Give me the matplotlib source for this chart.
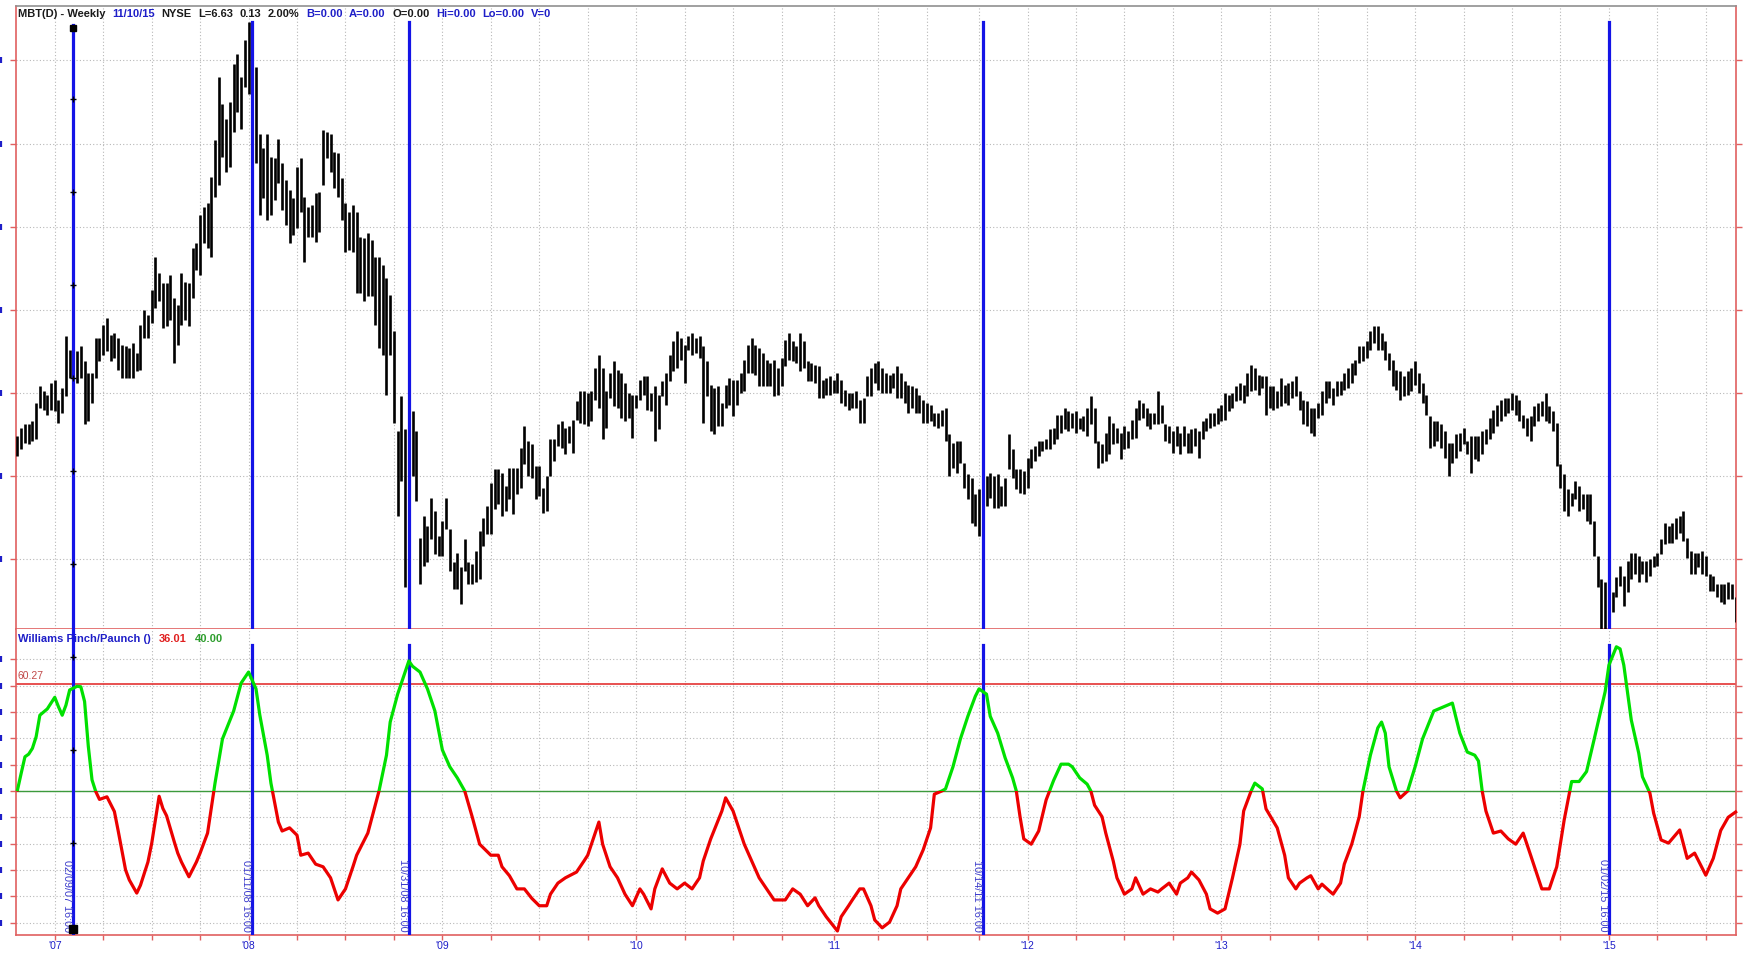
import matplotlib
matplotlib.use("Agg")
import matplotlib.pyplot as plt
import numpy as np
import pandas as pd
from matplotlib.patches import Rectangle

# ---------------- weekly price bars (MBT, NYSE) ----------------
first_bar = "2006-10-27"
bar_high = [
    17.4, 17.9, 18.1, 18.1, 18.3, 19.4, 20.4, 20.1, 19.9, 20.6,
    20.8, 19.6, 20.3, 23.4, 22.6, 22.6, 22.5, 22.8, 21.9, 21.2,
    21.2, 23.3, 23.3, 24.1, 24.5, 23.5, 23.6, 23.3, 22.9, 22.8,
    22.7, 23.0, 22.4, 24.1, 25.0, 24.7, 26.2, 28.2, 27.2, 26.6,
    26.6, 27.1, 25.7, 25.3, 27.2, 26.7, 26.6, 28.7, 29.0, 30.7,
    31.2, 31.4, 33.0, 35.2, 39.0, 37.4, 36.5, 37.5, 39.8, 40.4,
    39.0, 41.2, 42.3, 40.0, 39.6, 35.6, 34.7, 35.6, 34.2, 34.1,
    35.3, 33.8, 32.8, 32.2, 31.7, 33.6, 34.1, 31.8, 31.2, 31.3,
    32.0, 32.1, 35.8, 35.7, 35.6, 34.5, 34.4, 32.9, 31.4, 30.9,
    31.3, 30.9, 29.4, 29.3,
    29.6, 29.2, 28.2, 28.2, 27.7, 26.9, 25.9, 23.7, 17.7, 19.8,
    17.8, 18.8, 18.9, 17.7, 11.3, 12.6, 12.0, 13.7, 12.9, 11.4,
    12.3, 13.7, 11.8, 9.8, 10.4, 9.5, 11.2, 9.8, 9.7, 10.5,
    11.7, 12.5, 13.2, 14.6, 15.4, 15.4, 15.2, 14.4, 15.5, 15.5,
    15.5, 16.7, 18.0, 17.1, 16.9, 15.6, 15.6, 14.3, 15.0, 17.2,
    17.2, 18.1, 18.3, 17.9, 18.0, 18.4, 19.5, 20.1, 20.1, 20.0,
    20.1, 21.5, 22.3, 21.5, 20.1, 21.2, 21.9, 21.4, 21.2, 20.6,
    20.0, 19.9, 19.9, 20.8, 21.0, 21.0, 20.0, 20.4, 19.9, 20.7,
    21.2, 22.3, 23.1, 23.7, 23.3, 22.9, 23.4, 23.6, 23.3, 23.4,
    22.8, 21.9, 20.5,
    20.3, 20.4, 19.4, 20.5, 20.9, 20.8, 20.8, 21.2, 22.0, 22.9,
    23.3, 22.9, 22.7, 22.4, 22.0, 21.8, 22.0, 21.5, 22.1, 23.2,
    23.6, 23.1, 22.8, 23.6, 23.1, 21.9, 21.8, 21.7, 21.6, 20.8,
    20.9, 21.0, 20.8, 21.2, 20.8, 20.2, 20.0, 20.0, 20.1, 19.6,
    19.7, 21.0, 21.5, 21.8, 21.9, 21.5, 21.2, 21.1, 21.2, 21.6,
    21.2, 20.7, 20.5, 20.4, 20.3, 19.9, 19.6, 19.4, 19.3, 18.8,
    18.8, 19.0, 19.1, 17.5, 17.0, 17.1, 17.1, 15.8, 15.1, 14.9,
    13.9, 14.2, 14.8, 15.0, 15.2, 15.0, 15.1, 14.4, 14.9, 17.5,
    16.6, 15.4, 15.4, 15.3, 16.1, 16.6, 16.8, 17.1, 17.1, 17.2,
    17.8, 17.9, 18.7,
    18.7, 19.1, 18.9, 18.8, 18.9, 18.5, 18.6, 19.1, 19.8, 19.1,
    17.1, 16.9, 17.6, 18.6, 18.2, 17.9, 17.6, 18.0, 17.7, 18.4,
    19.1, 19.6, 19.4, 19.1, 18.8, 18.8, 20.1, 19.3, 18.1, 18.0,
    17.7, 18.0, 17.6, 18.0, 17.6, 17.8, 17.9, 17.7, 18.3, 18.5,
    18.8, 18.8, 19.1, 19.3, 20.0, 19.9, 20.0, 20.4, 20.6, 20.5,
    21.2, 21.7, 21.5, 21.1, 21.0, 21.0, 20.4, 20.4, 20.1, 20.9,
    20.5, 20.6, 20.7, 21.0, 20.1, 19.6, 19.5, 19.1, 19.1, 19.4,
    20.1, 20.7, 20.7, 20.3, 20.7, 20.7, 21.2, 21.5, 21.8, 22.0,
    22.8, 22.8, 23.1, 23.7, 24.0, 24.0, 23.6, 23.1, 22.4, 22.0,
    21.4, 21.3,
    21.0, 21.3, 21.5, 21.9, 21.2, 20.6, 19.9, 18.6, 18.3, 18.3,
    18.1, 17.7, 17.0, 17.0, 17.5, 17.6, 17.9, 17.1, 17.4, 17.4,
    17.4, 17.7, 17.8, 18.5, 19.0, 19.3, 19.6, 19.7, 19.7, 20.0,
    19.9, 19.6, 18.7, 18.5, 18.6, 19.2, 19.4, 19.5, 20.0, 19.2,
    18.9, 18.2, 15.7, 15.1, 14.2, 14.0, 14.7, 14.4, 13.9, 13.9,
    13.9, 12.3, 10.2, 8.8, 8.6, 8.3, 8.0, 8.9, 9.6, 9.0,
    9.9, 10.4, 10.4, 10.2, 9.9, 9.9, 10.0, 10.2, 10.4, 11.2,
    12.2, 12.0, 12.2, 12.5, 12.6, 12.9, 11.3, 10.5, 10.4, 10.4,
    10.5, 10.2, 9.1, 9.0, 8.5, 8.5, 8.5, 8.6, 8.5, 7.7,
]
bar_low = [
    16.2, 16.6, 17.0, 16.9, 17.1, 17.2, 19.1, 19.0, 18.7, 19.0,
    18.9, 18.2, 18.8, 19.8, 20.9, 20.8, 20.6, 20.9, 18.1, 18.3,
    19.4, 20.9, 21.9, 22.3, 22.5, 21.9, 22.1, 21.4, 20.9, 20.9,
    20.9, 20.9, 21.3, 21.4, 23.3, 23.3, 24.2, 25.1, 25.5, 23.9,
    24.0, 24.4, 21.8, 22.9, 24.1, 24.4, 24.0, 25.7, 27.4, 27.1,
    29.0, 28.7, 28.2, 31.8, 32.5, 34.2, 33.3, 33.6, 35.7, 36.9,
    35.9, 38.4, 38.0, 33.7, 33.8, 30.7, 31.7, 30.4, 30.7, 31.6,
    32.6, 31.0, 30.1, 29.0, 29.5, 29.9, 30.9, 27.9, 29.4, 29.4,
    29.1, 29.7, 32.5, 34.1, 33.3, 32.3, 31.8, 30.4, 28.5, 28.6,
    28.5, 26.0, 26.0, 25.5,
    25.8, 25.8, 24.1, 22.7, 22.3, 19.9, 22.3, 18.2, 12.6, 14.7,
    8.3, 8.0, 15.0, 13.5, 8.5, 9.6, 9.8, 11.2, 10.3, 10.2,
    10.2, 11.8, 9.3, 8.2, 8.2, 7.3, 9.3, 8.5, 8.5, 8.6,
    8.8, 10.8, 11.5, 11.5, 13.0, 13.3, 12.6, 12.9, 13.6, 12.7,
    13.9, 14.3, 15.7, 15.0, 14.9, 13.6, 13.8, 12.8, 12.9, 15.0,
    15.9, 16.8, 16.7, 16.3, 17.0, 16.4, 18.4, 18.2, 18.1, 18.0,
    18.3, 19.6, 19.1, 17.2, 17.9, 19.7, 19.2, 19.1, 18.5, 18.3,
    18.5, 17.3, 19.1, 19.6, 19.9, 19.0, 18.9, 17.1, 17.8, 19.8,
    19.3, 20.7, 21.3, 21.5, 22.0, 20.6, 22.6, 22.3, 22.4, 22.1,
    18.2, 19.8, 17.7,
    17.5, 18.0, 18.0, 19.1, 19.3, 18.6, 19.3, 20.0, 20.1, 21.2,
    21.2, 21.1, 20.4, 20.4, 20.4, 20.4, 19.8, 19.9, 20.4, 21.6,
    22.0, 21.9, 21.8, 21.3, 21.5, 20.7, 20.7, 20.6, 19.7, 19.7,
    19.9, 19.9, 20.0, 20.0, 19.4, 19.2, 19.0, 19.1, 19.1, 18.2,
    18.2, 19.8, 19.8, 20.6, 20.2, 20.0, 20.0, 20.0, 20.3, 19.7,
    19.7, 19.4, 18.8, 19.1, 18.8, 18.8, 18.2, 18.2, 18.3, 18.0,
    17.9, 18.0, 17.1, 15.0, 15.5, 15.2, 15.8, 14.3, 13.6, 12.2,
    12.0, 11.4, 13.2, 13.2, 13.7, 13.1, 13.1, 13.2, 13.2, 15.4,
    14.9, 14.2, 14.0, 13.9, 14.3, 15.5, 15.9, 16.2, 16.5, 16.6,
    16.6, 16.9, 17.2,
    17.6, 17.8, 17.7, 17.9, 17.6, 17.8, 17.7, 17.4, 18.1, 17.0,
    15.5, 15.8, 15.9, 16.3, 16.9, 17.0, 16.0, 16.6, 16.7, 17.2,
    17.3, 18.4, 18.5, 18.0, 17.8, 18.1, 18.1, 18.2, 17.1, 17.0,
    16.4, 16.8, 16.3, 16.8, 16.4, 16.4, 16.8, 16.1, 17.2, 17.7,
    17.9, 18.0, 18.1, 18.3, 18.4, 18.9, 19.1, 19.5, 19.6, 19.4,
    19.8, 20.1, 20.2, 19.9, 20.3, 18.7, 19.1, 19.0, 19.1, 19.2,
    19.4, 19.3, 19.7, 19.8, 19.0, 18.1, 18.0, 17.6, 17.4, 18.5,
    18.7, 19.4, 19.7, 19.3, 19.8, 19.9, 20.2, 20.3, 20.6, 21.1,
    21.8, 21.9, 22.1, 22.6, 23.0, 22.6, 22.6, 22.0, 21.4, 20.4,
    20.2, 19.6,
    19.8, 19.9, 20.1, 20.5, 20.0, 19.4, 18.7, 16.7, 16.8, 17.1,
    16.7, 16.1, 15.0, 15.8, 16.1, 16.5, 16.9, 16.3, 15.2, 16.0,
    15.9, 16.3, 16.9, 17.2, 17.6, 18.0, 18.3, 18.6, 18.8, 19.0,
    18.7, 18.3, 17.9, 17.4, 17.1, 18.0, 18.3, 18.6, 18.3, 18.2,
    17.7, 15.6, 14.3, 12.9, 12.6, 13.2, 13.6, 12.9, 13.0, 12.3,
    12.1, 10.2, 8.3, 5.7, 5.8, 6.9, 6.8, 7.7, 8.4, 7.2,
    8.0, 8.8, 9.1, 8.6, 9.1, 8.6, 9.0, 9.5, 9.6, 10.3,
    10.9, 11.0, 11.0, 11.2, 11.6, 11.1, 10.1, 9.1, 9.1, 9.5,
    9.1, 9.0, 8.1, 8.1, 7.7, 7.4, 7.3, 7.6, 7.6, 6.2,
]
last_close = 6.63
net_change = 0.13
pct_change = 2.00

# ---------------- Williams Pinch/Paunch oscillator ----------------
# (bar number, oscillator value)
pp_bar = [
    0, 1, 2, 3, 4, 5, 6, 8, 10, 11, 12, 13, 14, 16, 17, 18, 19, 20, 21, 22,
    24, 26, 27, 29, 30, 32, 33, 35, 36, 38, 39, 40, 42, 43, 44, 46, 48, 49, 51, 53,
    55, 58, 60, 62, 64, 65, 67, 68, 70, 71, 73, 75, 76, 78, 80, 82, 84, 86, 88, 90,
    91, 94, 96, 97, 99, 100, 102, 104, 105, 106, 108, 110, 112, 114, 116, 118, 120, 122, 124, 127,
    129, 130, 132, 134, 136, 138, 140, 142, 143, 145, 147, 150, 152, 153, 156, 157, 159, 161, 163, 165,
    167, 168, 170, 171, 173, 175, 177, 179, 181, 183, 184, 186, 189, 190, 192, 193, 195, 197, 199, 201,
    203, 206, 208, 210, 212, 214, 215, 217, 220, 221, 223, 224, 226, 227, 229, 230, 232, 234, 236, 237,
    239, 241, 243, 245, 246, 248, 249, 251, 253, 255, 257, 258, 260, 261, 263, 265, 267, 268, 269, 270,
    272, 274, 276, 278, 280, 282, 283, 285, 287, 288, 289, 291, 292, 294, 295, 297, 299, 300, 302, 304,
    306, 307, 309, 311, 312, 314, 315, 317, 319, 320, 322, 324, 326, 328, 329, 331, 332, 334, 335, 338,
    340, 341, 343, 344, 346, 347, 349, 350, 352, 353, 355, 356, 358, 360, 361, 363, 365, 366, 367, 368,
    370, 371, 373, 375, 377, 380, 385, 387, 389, 391, 392, 393, 394, 396, 398, 400, 402, 404, 406, 408,
    409, 411, 413, 415, 417, 419, 421, 423, 426, 427, 429, 430, 431, 433, 435, 436, 438, 439, 441, 443,
    446, 448, 450, 453, 455, 457, 459, 461,
]
pp_value = [
    40.2, 43.4, 46.5, 47.0, 48.1, 50.3, 54.4, 55.6, 57.8, 56.0, 54.4, 56.3, 59.2, 59.9, 59.8, 57.0, 48.5, 42.1, 39.9, 38.4,
    38.9, 36.1, 32.5, 25.0, 23.1, 20.6, 22.1, 26.5, 30.0, 39.0, 36.7, 35.3, 30.5, 28.2, 26.5, 23.7, 26.5, 28.2, 32.0, 41.5,
    49.9, 55.2, 60.5, 62.6, 59.4, 54.5, 46.8, 41.5, 34.1, 32.4, 33.0, 31.6, 27.8, 28.2, 26.1, 25.6, 23.5, 19.3, 21.4, 25.6,
    27.8, 32.0, 37.3, 40.0, 46.8, 53.1, 58.4, 62.6, 64.7, 63.7, 62.6, 59.4, 55.2, 47.8, 44.6, 42.5, 40.0, 35.1, 29.9, 27.8,
    27.8, 25.6, 23.9, 21.4, 21.4, 19.6, 18.2, 18.2, 20.4, 22.5, 23.5, 24.6, 26.7, 27.8, 34.1, 29.9, 25.6, 23.5, 20.4, 18.2,
    21.4, 20.4, 17.6, 21.4, 25.2, 22.5, 21.4, 22.5, 21.4, 23.5, 26.7, 30.9, 36.2, 38.7, 36.2, 34.1, 29.9, 26.7, 23.5, 21.4,
    19.3, 19.3, 21.4, 20.4, 18.2, 19.7, 18.2, 16.1, 13.4, 16.1, 18.2, 19.3, 21.4, 21.4, 18.2, 15.5, 14.0, 15.1, 18.2, 21.4,
    23.5, 25.6, 28.8, 33.0, 39.4, 40.0, 40.4, 44.6, 49.9, 54.2, 58.0, 59.4, 58.4, 54.2, 51.0, 46.3, 42.5, 40.0, 35.1, 30.9,
    29.9, 32.4, 38.3, 42.0, 45.1, 45.1, 44.6, 42.5, 41.3, 40.0, 37.3, 35.1, 32.0, 26.7, 23.5, 20.4, 21.4, 23.5, 20.4, 21.4,
    20.8, 21.4, 22.5, 20.4, 22.5, 23.5, 24.6, 23.1, 20.4, 17.6, 16.8, 17.6, 23.5, 29.9, 36.2, 40.0, 41.5, 40.4, 36.6, 33.0,
    27.8, 23.5, 21.4, 22.5, 23.5, 23.9, 21.4, 22.3, 21.0, 20.4, 22.5, 26.1, 29.9, 35.1, 40.0, 46.8, 52.0, 53.1, 51.0, 44.6,
    40.0, 38.7, 40.0, 44.6, 49.9, 55.2, 56.7, 51.0, 47.4, 46.8, 45.7, 40.0, 36.2, 32.0, 32.4, 30.9, 29.9, 32.0, 27.8, 23.5,
    21.4, 21.4, 25.6, 34.5, 41.8, 41.8, 43.7, 49.7, 58.9, 63.9, 67.4, 67.0, 63.9, 53.5, 47.2, 42.7, 39.6, 35.8, 30.7, 30.1,
    32.6, 27.2, 28.2, 24.0, 27.2, 32.5, 35.0, 36.01,
]
pp_upper = 60.27
pp_lower = 40.00

# ---------------- dated vertical markers ----------------
marker_dates = ["2007-02-09", "2008-01-11", "2008-10-31", "2011-10-14", "2015-01-02"]
marker_labels = ["02/09/07 16:00", "01/11/08 16:00", "10/31/08 16:00",
                 "10/14/11 16:00", "01/02/15 16:00"]

price_ticks = [10, 15, 20, 25, 30, 35, 40]
pp_ticks = [15, 20, 25, 30, 35, 40, 45, 50, 55, 60, 65]

# ---------------- styling ----------------
W, H = 1743, 956
RED_AX = "#E06060"
BLUE_TXT = "#1E1EC8"
DARK_TXT = "#1A1A1A"
LINE_BLUE = "#1414E6"
GRID = "#B8B8B8"
FONT = "Liberation Sans"

plt.rcParams["font.family"] = [FONT, "DejaVu Sans"]

dates = pd.date_range(first_bar, periods=len(bar_high), freq="7D")
x = np.arange(len(dates))

# first weekly bar of every calendar quarter (skip a partial first quarter)
qstart = dates.to_period("Q").start_time
is_first = np.r_[True, qstart[1:] != qstart[:-1]]
is_first &= (dates - qstart) < pd.Timedelta(days=7)
q_pos = x[is_first]
q_lab = ["'" + d.strftime("%y") if d.month == 1 else "" for d in dates[is_first]]

marker_pos = [dates.get_loc(pd.Timestamp(d)) for d in marker_dates]

fig = plt.figure(figsize=(W / 100, H / 100), dpi=100)
fig.patch.set_facecolor("white")


def box(l, t, r, b):
    return [l / W, 1 - b / H, (r - l) / W, (b - t) / H]


ax1 = fig.add_axes(box(16, 6, 1736, 629))
ax2 = fig.add_axes(box(16, 629, 1736, 935))

xlim = (-0.4, 461.1)
# price-scale readout strip sits just off the left edge of the window
edge_x = (1.5 - 16) / (1736 - 16)
for ax, ticks in ((ax1, price_ticks), (ax2, pp_ticks)):
    ax.set_xlim(*xlim)
    ax.set_facecolor("white")
    ax.set_axisbelow(True)
    ax.set_xticks(q_pos)
    ax.set_yticks(ticks)
    ax.grid(True, linestyle=(0, (1, 2)), color=GRID, linewidth=0.8)
    ax.tick_params(axis="y", direction="out", length=4, width=1, color=RED_AX,
                   labelleft=False, right=True)
    ax.plot([edge_x] * len(ticks), ticks, transform=ax.get_yaxis_transform(),
            linestyle="none", marker="|", markersize=5, markeredgewidth=1.6,
            color=BLUE_TXT, clip_on=False)
    for side in ("left", "right", "bottom"):
        ax.spines[side].set_color(RED_AX)
        ax.spines[side].set_linewidth(1.2)

ax1.spines["top"].set_color("#909090")
ax1.spines["top"].set_linewidth(1.2)
ax2.spines["top"].set_visible(False)

# ---- price panel ----
ax1.set_ylim(5.80, 43.27)
ax1.tick_params(axis="x", length=0, labelbottom=False)
ax1.vlines(x, bar_low, bar_high, color="black", linewidth=1.9, zorder=3)

# ---- oscillator panel ----
ax2.set_ylim(12.64, 70.78)
ax2.set_xticklabels(q_lab)
ax2.tick_params(axis="x", direction="out", length=3.5, width=1, color=RED_AX,
                labelcolor=BLUE_TXT, labelsize=7.5, pad=1)

ax2.axhline(pp_upper, color="#E02020", linewidth=1.1, zorder=2)
ax2.axhline(pp_lower, color="#3C9A3C", linewidth=1.0, zorder=2)

hi_clip = Rectangle((-50, pp_lower), 600, 200, transform=ax2.transData)
lo_clip = Rectangle((-50, -200), 600, 200 + pp_lower, transform=ax2.transData)
g_line, = ax2.plot(pp_bar, pp_value, color="#00E000", linewidth=2.3,
                   solid_joinstyle="round", zorder=5)
r_line, = ax2.plot(pp_bar, pp_value, color="#EC0000", linewidth=2.3,
                   solid_joinstyle="round", zorder=5)
g_line.set_clip_path(hi_clip)
r_line.set_clip_path(lo_clip)

# ---- dated vertical markers ----
for i, (p, lab) in enumerate(zip(marker_pos, marker_labels)):
    ax1.axvline(p, ymax=0.969 if i == 0 else 0.974, color=LINE_BLUE,
                linewidth=2.3, zorder=4)
    ax2.axvline(p, ymax=1.0 if i == 0 else 0.948, color=LINE_BLUE,
                linewidth=2.3, zorder=4)
    ax2.annotate(lab, xy=(p, 0.01), xycoords=ax2.get_xaxis_transform(),
                 xytext=(-6, 0), textcoords="offset pixels", rotation=270,
                 ha="center", va="bottom", fontsize=7.8, color="#3C3CCC", zorder=6)

# selection handles on the first marker line
p0 = marker_pos[0]
ax1.plot([p0] * 6, [0.8507, 0.7014, 0.5522, 0.4029, 0.2536, 0.1043],
         transform=ax1.get_xaxis_transform(), linestyle="none", marker="+",
         markersize=4, markeredgewidth=1, color="black", zorder=6)
ax1.plot([p0], [0.9647], transform=ax1.get_xaxis_transform(), marker="s",
         markersize=4.5, color="black", zorder=6)
ax2.plot([p0] * 3, [0.9085, 0.6046, 0.3007], transform=ax2.get_xaxis_transform(),
         linestyle="none", marker="+", markersize=4, markeredgewidth=1,
         color="black", zorder=6)
ax2.plot([p0], [0.0196], transform=ax2.get_xaxis_transform(), marker="s",
         markersize=5.5, color="black", zorder=6, clip_on=False)

# band value label
ax2.annotate(f"{pp_upper:.2f}", xy=(0, pp_upper), xycoords=("axes fraction", "data"),
             xytext=(2, 3), textcoords="offset pixels", ha="left", va="bottom",
             fontsize=7.5, color="#C04848")

# ---- header rows ----
renderer = fig.canvas.get_renderer()


def text_row(x0, y0, parts, size, gap):
    xp = x0
    for s, c in parts:
        t = fig.text(xp / W, 1 - y0 / H, s, color=c, fontsize=size,
                     fontweight="bold", ha="left", va="center")
        bb = t.get_window_extent(renderer=renderer)
        xp = bb.x1 + gap


text_row(18, 14, [
    ("MBT(D) - Weekly", DARK_TXT),
    ("11/10/15", BLUE_TXT),
    ("NYSE", DARK_TXT),
    (f"L={last_close:.2f}", DARK_TXT),
    (f"{net_change:.2f}", DARK_TXT),
    (f"{pct_change:.2f}%", DARK_TXT),
    ("B=0.00", BLUE_TXT),
    ("A=0.00", BLUE_TXT),
    ("O=0.00", DARK_TXT),
    ("Hi=0.00", BLUE_TXT),
    ("Lo=0.00", BLUE_TXT),
    ("V=0", BLUE_TXT),
], 8, 6.6)

text_row(18, 639, [
    ("Williams Pinch/Paunch ()", BLUE_TXT),
    (f"{pp_value[-1]:.2f}", "#E02020"),
    (f"{pp_lower:.2f}", "#2E9E2E"),
], 8, 8)

fig.savefig("out.png", dpi=100, facecolor="white")
